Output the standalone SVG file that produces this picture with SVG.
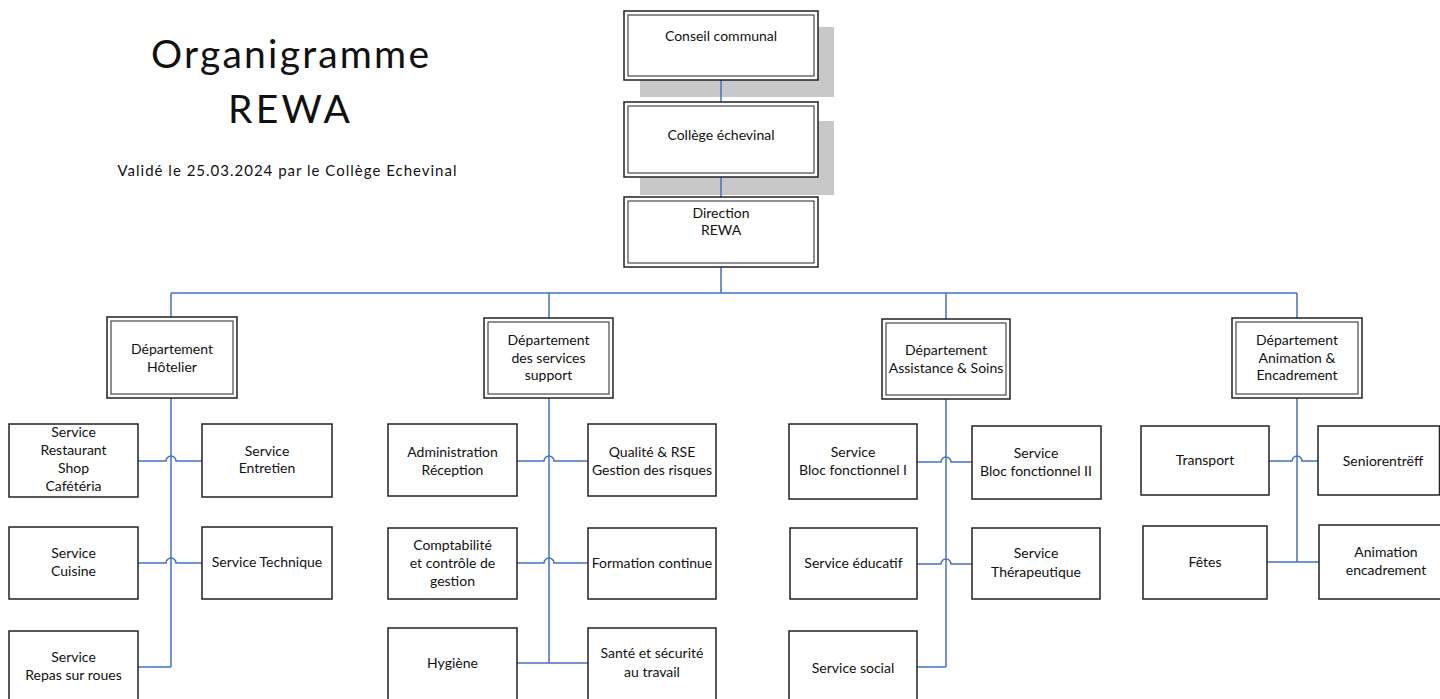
<svg xmlns="http://www.w3.org/2000/svg" width="1440" height="699" viewBox="0 0 1440 699">
<style>
text{font-family:"Lato","Liberation Sans",sans-serif;fill:#111;text-anchor:middle;}
.t{font-size:14px;}
.title{font-size:39px;}
.sub{font-size:15px;}
.box{fill:#fff;stroke:#222;stroke-width:1.5;}
.outer{fill:#fff;stroke:#222;stroke-width:1.5;}
.inner{fill:none;stroke:#222;stroke-width:1;}
.shadow{fill:#c8c8c8;}
.con{fill:none;stroke:#4472c4;stroke-width:1.5;}
</style>
<rect width="1440" height="699" fill="#fff"/>
<g id="title">
<text class="title" x="290" y="68" textLength="278" lengthAdjust="spacing">Organigramme</text>
<text class="title" x="289" y="123" textLength="122" lengthAdjust="spacing">REWA</text>
<text class="sub" x="287" y="176" textLength="339" lengthAdjust="spacing">Validé le 25.03.2024 par le Collège Echevinal</text>
</g>
<g id="shadows">
<rect class="shadow" x="640" y="27" width="194" height="70"/>
<rect class="shadow" x="640" y="121" width="194" height="74"/>
</g>
<g id="connectors">
<path class="con" d="M721 80V102M721 177V197M721 267V293M171 293H1297M171 293V317M549 293V318M946 293V319M1297 293V318"/>
<path class="con" d="M171 398V667M138 667H171M138 461H166A5 5 0 0 1 176 461H202M138 563H166A5 5 0 0 1 176 563H202"/>
<path class="con" d="M549 398V663M517 663H588M517 461H544A5 5 0 0 1 554 461H588M517 563H544A5 5 0 0 1 554 563H588"/>
<path class="con" d="M946 399V667M917 667H946M917 462H941A5 5 0 0 1 951 462H972M917 564H941A5 5 0 0 1 951 564H972"/>
<path class="con" d="M1297 398V562M1267 562H1319M1269 461H1292A5 5 0 0 1 1302 461H1318"/>
</g>
<g id="conseil">
<rect class="outer" x="624" y="11" width="194" height="69"/>
<rect class="inner" x="628" y="15" width="186" height="61"/>
<text class="t" x="721" y="41">Conseil communal</text>
</g>
<g id="college">
<rect class="outer" x="624" y="102" width="194" height="75"/>
<rect class="inner" x="628" y="106" width="186" height="67"/>
<text class="t" x="721" y="140">Collège échevinal</text>
</g>
<g id="direction">
<rect class="outer" x="624" y="197" width="194" height="70"/>
<rect class="inner" x="628" y="201" width="186" height="62"/>
<text class="t" x="721" y="218">Direction</text>
<text class="t" x="721" y="235">REWA</text>
</g>
<g id="dep-hotelier">
<rect class="outer" x="107" y="317" width="130" height="81"/>
<rect class="inner" x="111" y="321" width="122" height="73"/>
<text class="t" x="172" y="354">Département</text>
<text class="t" x="172" y="372">Hôtelier</text>
</g>
<g id="dep-support">
<rect class="outer" x="484" y="318" width="129" height="80"/>
<rect class="inner" x="488" y="322" width="121" height="72"/>
<text class="t" x="548.5" y="345">Département</text>
<text class="t" x="548.5" y="363">des services</text>
<text class="t" x="548.5" y="380">support</text>
</g>
<g id="dep-assistance">
<rect class="outer" x="882" y="319" width="128" height="80"/>
<rect class="inner" x="886" y="323" width="120" height="72"/>
<text class="t" x="946" y="355">Département</text>
<text class="t" x="946" y="373">Assistance &amp; Soins</text>
</g>
<g id="dep-animation">
<rect class="outer" x="1232" y="318" width="130" height="80"/>
<rect class="inner" x="1236" y="322" width="122" height="72"/>
<text class="t" x="1297" y="345">Département</text>
<text class="t" x="1297" y="363">Animation &amp;</text>
<text class="t" x="1297" y="380">Encadrement</text>
</g>
<g id="s-restaurant">
<rect class="box" x="9" y="424" width="129" height="73"/>
<text class="t" x="73.5" y="437">Service</text>
<text class="t" x="73.5" y="455">Restaurant</text>
<text class="t" x="73.5" y="473">Shop</text>
<text class="t" x="73.5" y="491">Cafétéria</text>
</g>
<g id="s-entretien">
<rect class="box" x="202" y="424" width="130" height="73"/>
<text class="t" x="267" y="456">Service</text>
<text class="t" x="267" y="473">Entretien</text>
</g>
<g id="s-cuisine">
<rect class="box" x="9" y="527" width="129" height="72"/>
<text class="t" x="73.5" y="558">Service</text>
<text class="t" x="73.5" y="576">Cuisine</text>
</g>
<g id="s-technique">
<rect class="box" x="202" y="527" width="130" height="72"/>
<text class="t" x="267" y="567">Service Technique</text>
</g>
<g id="s-repas">
<rect class="box" x="9" y="631" width="129" height="90"/>
<text class="t" x="73.5" y="662">Service</text>
<text class="t" x="73.5" y="680">Repas sur roues</text>
</g>
<g id="s-administration">
<rect class="box" x="388" y="424" width="129" height="72"/>
<text class="t" x="452.5" y="457">Administration</text>
<text class="t" x="452.5" y="475">Réception</text>
</g>
<g id="s-qualite">
<rect class="box" x="588" y="424" width="128" height="72"/>
<text class="t" x="652" y="457">Qualité &amp; RSE</text>
<text class="t" x="652" y="475">Gestion des risques</text>
</g>
<g id="s-comptabilite">
<rect class="box" x="388" y="528" width="129" height="71"/>
<text class="t" x="452.5" y="550">Comptabilité</text>
<text class="t" x="452.5" y="568">et contrôle de</text>
<text class="t" x="452.5" y="586">gestion</text>
</g>
<g id="s-formation">
<rect class="box" x="588" y="528" width="128" height="71"/>
<text class="t" x="652" y="568">Formation continue</text>
</g>
<g id="s-hygiene">
<rect class="box" x="388" y="628" width="129" height="93"/>
<text class="t" x="452.5" y="668">Hygiène</text>
</g>
<g id="s-sante">
<rect class="box" x="588" y="628" width="128" height="93"/>
<text class="t" x="652" y="658">Santé et sécurité</text>
<text class="t" x="652" y="677">au travail</text>
</g>
<g id="s-bloc1">
<rect class="box" x="789" y="424" width="128" height="75"/>
<text class="t" x="853" y="457">Service</text>
<text class="t" x="853" y="475">Bloc fonctionnel I</text>
</g>
<g id="s-bloc2">
<rect class="box" x="972" y="426" width="129" height="73"/>
<text class="t" x="1036" y="458">Service</text>
<text class="t" x="1036" y="476">Bloc fonctionnel II</text>
</g>
<g id="s-educatif">
<rect class="box" x="790" y="528" width="127" height="71"/>
<text class="t" x="853.5" y="568">Service éducatif</text>
</g>
<g id="s-therapeutique">
<rect class="box" x="972" y="528" width="128" height="71"/>
<text class="t" x="1036" y="558">Service</text>
<text class="t" x="1036" y="577">Thérapeutique</text>
</g>
<g id="s-social">
<rect class="box" x="789" y="631" width="128" height="90"/>
<text class="t" x="853" y="673">Service social</text>
</g>
<g id="s-transport">
<rect class="box" x="1141" y="426" width="128" height="69"/>
<text class="t" x="1205" y="465">Transport</text>
</g>
<g id="s-seniorentreff">
<rect class="box" x="1318" y="426" width="121.5" height="69"/>
<text class="t" x="1383" y="466">Seniorentrëff</text>
</g>
<g id="s-fetes">
<rect class="box" x="1143" y="526" width="124" height="73"/>
<text class="t" x="1205" y="567">Fêtes</text>
</g>
<g id="s-animation">
<rect class="box" x="1319" y="525" width="125" height="74"/>
<text class="t" x="1386" y="557">Animation</text>
<text class="t" x="1386" y="575">encadrement</text>
</g>
</svg>
